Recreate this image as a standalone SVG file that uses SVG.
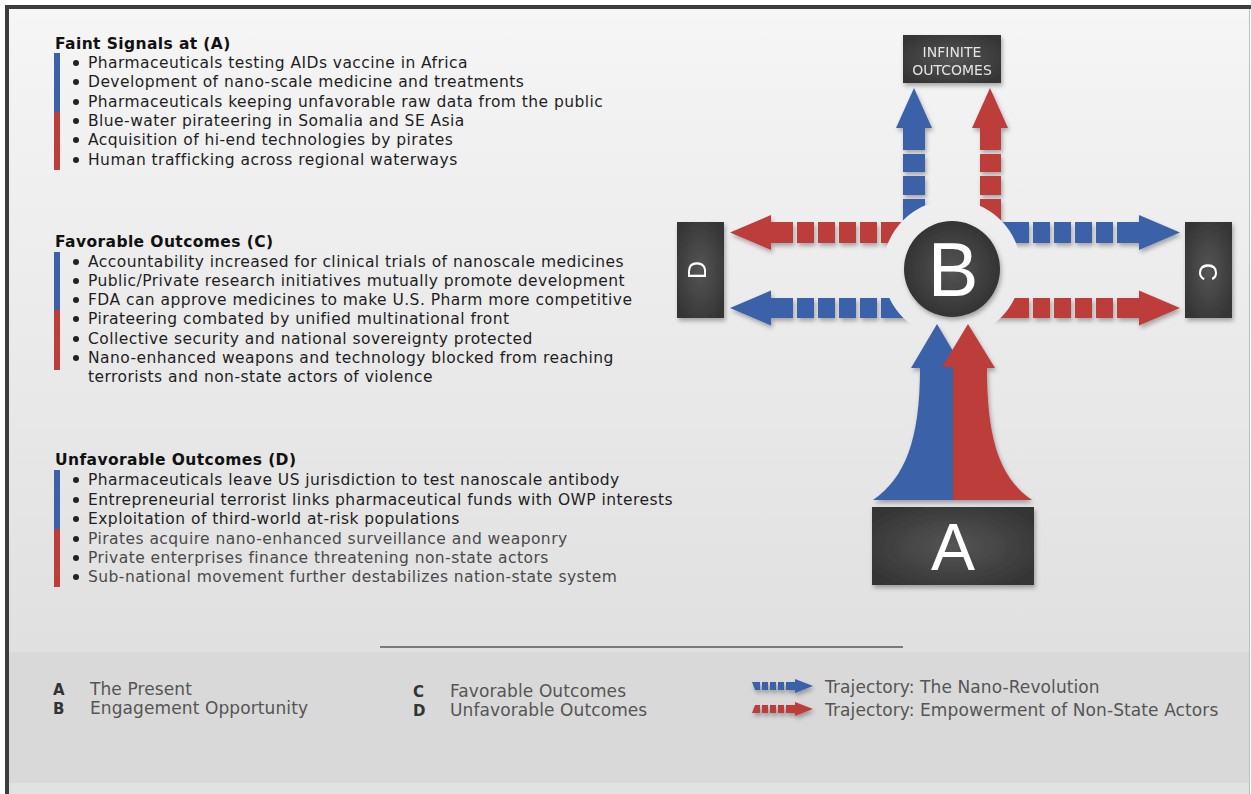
<svg xmlns="http://www.w3.org/2000/svg" width="1251" height="794" viewBox="0 0 1251 794">
<defs>
<style>
.body{font-family:"DejaVu Sans","Liberation Sans",sans-serif;font-size:15.5px;letter-spacing:0.45px;fill:#1e1e1e}
.head{font-family:"DejaVu Sans","Liberation Sans",sans-serif;font-size:15.5px;letter-spacing:0.4px;font-weight:bold;fill:#111}
.dim{fill:#4a4a4a}
.leg{font-family:"DejaVu Sans","Liberation Sans",sans-serif;font-size:17px;letter-spacing:0.1px;fill:#555}
.legk{font-family:"DejaVu Sans","Liberation Sans",sans-serif;font-size:15px;font-weight:bold;fill:#333}
.box{fill:url(#boxg)}
.big{font-family:"Liberation Sans","DejaVu Sans",sans-serif;fill:#fff}
.blue{fill:#3b62a8}
.red{fill:#bd3d3b}
.bul{fill:#222}
</style>
<linearGradient id="bg" x1="0" y1="0" x2="0" y2="1">
<stop offset="0" stop-color="#f6f6f6"/>
<stop offset="0.1" stop-color="#f3f3f3"/>
<stop offset="1" stop-color="#e0e0e0"/>
</linearGradient>
<radialGradient id="boxg" cx="0.5" cy="0.5" r="0.6">
<stop offset="0" stop-color="#555"/>
<stop offset="1" stop-color="#353535"/>
</radialGradient>
<radialGradient id="circg" cx="0.5" cy="0.5" r="0.55">
<stop offset="0" stop-color="#555"/>
<stop offset="1" stop-color="#303030"/>
</radialGradient>
<filter id="sh" x="-20%" y="-20%" width="140%" height="150%">
<feDropShadow dx="1.5" dy="3" stdDeviation="2" flood-color="#000" flood-opacity="0.3"/>
</filter>
<clipPath id="halo">
<path clip-rule="evenodd" d="M0 0H1251V794H0Z M952 200 A69 69 0 1 0 952.01 200Z"/>
</clipPath>
</defs>

<!-- background and frame -->
<rect x="0" y="0" width="1251" height="794" fill="#ffffff"/>
<rect x="9" y="9" width="1240" height="643" fill="url(#bg)"/>
<rect x="9" y="652" width="1240" height="131" fill="#d9d9d9"/>
<rect x="9" y="783" width="1240" height="11" fill="#e2e2e2"/>
<path d="M5 7H1251" stroke="#3d3d3d" stroke-width="4"/>
<path d="M7 5V794" stroke="#3d3d3d" stroke-width="4"/>
<path d="M1249.5 9V794" stroke="#bdbdbd" stroke-width="1"/>

<!-- text sections -->
<g id="faint-signals">
<text class="head" x="55" y="49">Faint Signals at (A)</text>
<rect x="54" y="53" width="6" height="59" class="blue"/>
<rect x="54" y="112" width="6" height="58" class="red"/>
<g class="bul"><circle cx="76" cy="63" r="3"/><circle cx="76" cy="82" r="3"/><circle cx="76" cy="102" r="3"/><circle cx="76" cy="121" r="3"/><circle cx="76" cy="140" r="3"/><circle cx="76" cy="160" r="3"/></g>
<text class="body" x="88" y="68">Pharmaceuticals testing AIDs vaccine in Africa</text>
<text class="body" x="88" y="87">Development of nano-scale medicine and treatments</text>
<text class="body" x="88" y="107">Pharmaceuticals keeping unfavorable raw data from the public</text>
<text class="body" x="88" y="126">Blue-water pirateering in Somalia and SE Asia</text>
<text class="body" x="88" y="145">Acquisition of hi-end technologies by pirates</text>
<text class="body" x="88" y="165">Human trafficking across regional waterways</text>
</g>

<g id="favorable-outcomes">
<text class="head" x="55" y="247">Favorable Outcomes (C)</text>
<rect x="54" y="252" width="6" height="58" class="blue"/>
<rect x="54" y="310" width="6" height="60" class="red"/>
<g class="bul"><circle cx="76" cy="262" r="3"/><circle cx="76" cy="281" r="3"/><circle cx="76" cy="300" r="3"/><circle cx="76" cy="319" r="3"/><circle cx="76" cy="339" r="3"/><circle cx="76" cy="358" r="3"/></g>
<text class="body" x="88" y="267">Accountability increased for clinical trials of nanoscale medicines</text>
<text class="body" x="88" y="286">Public/Private research initiatives mutually promote development</text>
<text class="body" x="88" y="305">FDA can approve medicines to make U.S. Pharm more competitive</text>
<text class="body" x="88" y="324">Pirateering combated by unified multinational front</text>
<text class="body" x="88" y="344">Collective security and national sovereignty protected</text>
<text class="body" x="88" y="363">Nano-enhanced weapons and technology blocked from reaching</text>
<text class="body" x="88" y="382">terrorists and non-state actors of violence</text>
</g>

<g id="unfavorable-outcomes">
<text class="head" x="55" y="465">Unfavorable Outcomes (D)</text>
<rect x="54" y="470" width="6" height="59" class="blue"/>
<rect x="54" y="529" width="6" height="58" class="red"/>
<g class="bul"><circle cx="76" cy="480" r="3"/><circle cx="76" cy="500" r="3"/><circle cx="76" cy="519" r="3"/><circle cx="76" cy="539" r="3"/><circle cx="76" cy="558" r="3"/><circle cx="76" cy="577" r="3"/></g>
<text class="body" x="88" y="485">Pharmaceuticals leave US jurisdiction to test nanoscale antibody</text>
<text class="body" x="88" y="505">Entrepreneurial terrorist links pharmaceutical funds with OWP interests</text>
<text class="body" x="88" y="524">Exploitation of third-world at-risk populations</text>
<text class="body dim" x="88" y="544">Pirates acquire nano-enhanced surveillance and weaponry</text>
<text class="body dim" x="88" y="563">Private enterprises finance threatening non-state actors</text>
<text class="body dim" x="88" y="582">Sub-national movement further destabilizes nation-state system</text>
</g>

<!-- connectors -->
<g id="connectors">
<g clip-path="url(#halo)">
<g filter="url(#sh)">
<!-- up blue -->
<g class="blue">
<polygon points="914,88 932,128 925,128 925,150 903,150 903,128 896,128"/>
<rect x="903" y="154" width="22" height="18"/>
<rect x="903" y="176" width="22" height="19"/>
<rect x="903" y="199" width="22" height="23"/>
</g>
<!-- up red -->
<g class="red">
<polygon points="990,88 1008,128 1001,128 1001,150 980,150 980,128 972,128"/>
<rect x="980" y="154" width="21" height="18"/>
<rect x="980" y="176" width="21" height="19"/>
<rect x="980" y="199" width="21" height="23"/>
</g>
<!-- left red (to D) -->
<g class="red">
<polygon points="730,232.5 771,215 771,222 793,222 793,243 771,243 771,250"/>
<rect x="797" y="222" width="17" height="21"/>
<rect x="818" y="222" width="17" height="21"/>
<rect x="839" y="222" width="17" height="21"/>
<rect x="860" y="222" width="17" height="21"/>
<rect x="881" y="222" width="22" height="21"/>
</g>
<!-- left blue (to D) -->
<g class="blue">
<polygon points="730,308 771,290.5 771,298 793,298 793,318 771,318 771,325.5"/>
<rect x="797" y="298" width="17" height="20"/>
<rect x="818" y="298" width="17" height="20"/>
<rect x="839" y="298" width="17" height="20"/>
<rect x="860" y="298" width="17" height="20"/>
<rect x="881" y="298" width="40" height="20"/>
</g>
<!-- right blue (to C) -->
<g class="blue">
<polygon points="1180,232.5 1139,215 1139,222 1117,222 1117,243 1139,243 1139,250"/>
<rect x="1096" y="222" width="17" height="21"/>
<rect x="1075" y="222" width="17" height="21"/>
<rect x="1054" y="222" width="17" height="21"/>
<rect x="1033" y="222" width="17" height="21"/>
<rect x="1001" y="222" width="28" height="21"/>
</g>
<!-- right red (to C) -->
<g class="red">
<polygon points="1180,308 1139,290.5 1139,298 1117,298 1117,318 1139,318 1139,325.5"/>
<rect x="1096" y="298" width="17" height="20"/>
<rect x="1075" y="298" width="17" height="20"/>
<rect x="1054" y="298" width="17" height="20"/>
<rect x="1033" y="298" width="17" height="20"/>
<rect x="990" y="298" width="39" height="20"/>
</g>
</g>
</g>
<!-- A to B flared arrows -->
<g filter="url(#sh)">
<path class="blue" d="M873 500 C905 478 920 440 920 368 L911 368 L937 324 L963 368 L953 368 L953 500 Z"/>
<path class="red" d="M1032 500 C1000 478 987 440 987 368 L995 368 L968 324 L942 367 L953 367 L953 500 Z"/>
</g>
</g>

<!-- nodes -->
<g id="node-infinite" filter="url(#sh)">
<rect x="903" y="35" width="98" height="48" class="box"/>
<text x="952" y="57" text-anchor="middle" font-family="DejaVu Sans, Liberation Sans, sans-serif" font-size="14" fill="#e4e4e4">INFINITE</text>
<text x="952" y="75" text-anchor="middle" font-family="DejaVu Sans, Liberation Sans, sans-serif" font-size="14" fill="#e4e4e4">OUTCOMES</text>
</g>
<g id="node-B" filter="url(#sh)">
<circle cx="952" cy="269" r="48" fill="url(#circg)"/>
<text class="big" x="953" y="296" text-anchor="middle" font-size="76">B</text>
</g>
<g id="node-D" filter="url(#sh)">
<rect x="677" y="222" width="47" height="96" class="box"/>
<text class="big" font-size="25" text-anchor="middle" transform="translate(706 270) rotate(-90)">D</text>
</g>
<g id="node-C" filter="url(#sh)">
<rect x="1185" y="222" width="47" height="96" class="box"/>
<text class="big" font-size="25" text-anchor="middle" transform="translate(1199 272) rotate(90)">C</text>
</g>
<g id="node-A" filter="url(#sh)">
<rect x="872" y="507" width="162" height="78" class="box"/>
<text class="big" x="953" y="570" text-anchor="middle" font-size="66">A</text>
</g>

<!-- legend -->
<g id="legend">
<path d="M380 647H903" stroke="#7a7a7a" stroke-width="2"/>
<text class="legk" x="53" y="695">A</text>
<text class="leg" x="90" y="695">The Present</text>
<text class="legk" x="53" y="714">B</text>
<text class="leg" x="90" y="714">Engagement Opportunity</text>
<text class="legk" x="413" y="697">C</text>
<text class="leg" x="450" y="697">Favorable Outcomes</text>
<text class="legk" x="413" y="716">D</text>
<text class="leg" x="450" y="716">Unfavorable Outcomes</text>
<g filter="url(#sh)">
<g class="blue">
<polygon points="752,682 760,682 760,690 755,690"/>
<rect x="762" y="682" width="6" height="8"/><rect x="770" y="682" width="6" height="8"/><rect x="778" y="682" width="6" height="8"/><rect x="786" y="682" width="9" height="8"/>
<polygon points="795,679 813,686 795,693"/>
</g>
<g class="red">
<polygon points="755,705 760,705 760,713 752,713"/>
<rect x="762" y="705" width="6" height="8"/><rect x="770" y="705" width="6" height="8"/><rect x="778" y="705" width="6" height="8"/><rect x="786" y="705" width="9" height="8"/>
<polygon points="795,702 813,709 795,716"/>
</g>
</g>
<text class="leg" x="825" y="693">Trajectory: The Nano-Revolution</text>
<text class="leg" x="825" y="716">Trajectory: Empowerment of Non-State Actors</text>
</g>
</svg>
